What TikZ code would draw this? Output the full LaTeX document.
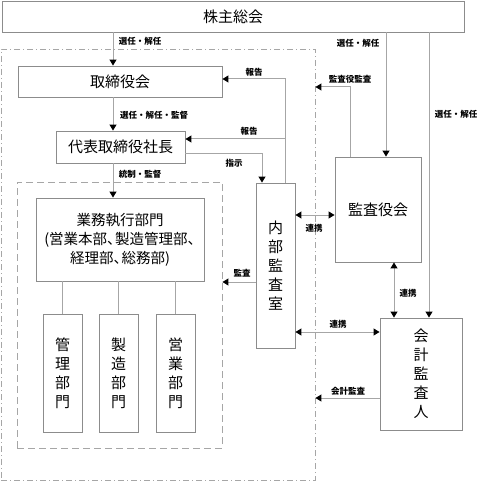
\documentclass[tikz,border=0pt]{standalone}
\usepackage{fontspec}
\setmainfont{Noto Sans CJK JP}
\usetikzlibrary{arrows.meta}
\definecolor{boxgray}{HTML}{8C8C8C}
\definecolor{linegray}{HTML}{A6A6A6}
\newcommand\halfcomma{\makebox[0.55em][l]{、}}
\begin{document}
\begin{tikzpicture}[x=1pt,y=-1pt,
  box/.style={draw=boxgray,line width=0.9pt,inner sep=0pt,font=\fontsize{15}{19}\selectfont,align=center},
  conn/.style={draw=linegray,line width=1pt},
  arr/.style={conn,-{Triangle[length=6pt,width=7pt,color=black]}},
  darr/.style={conn,{Triangle[length=6pt,width=7pt,color=black]}-{Triangle[length=6pt,width=7pt,color=black]}},
  lbl/.style={font=\fontsize{8.5}{10}\selectfont\bfseries,inner sep=0pt},
  frame/.style={draw=linegray,line width=0.9pt,inner sep=0pt}]
\useasboundingbox (0,0) rectangle (479,481);
% frames
\node[frame,dash pattern=on 6pt off 3pt on 1pt off 3pt,minimum width=314pt,minimum height=431pt] (of) at (158,264.5) {};
\node[frame,dash pattern=on 7pt off 4pt,minimum width=205pt,minimum height=266pt] (if) at (119.5,315) {};
% boxes
\node[box,minimum width=462pt,minimum height=31pt] (sh) at (233,16.5) {株主総会};
\node[box,minimum width=204pt,minimum height=31pt] (tb) at (120,81.5) {取締役会};
\node[box,minimum width=129pt,minimum height=32pt] (dp) at (120.5,147) {代表取締役社長};
\node[box,minimum width=168pt,minimum height=83pt,font=\fontsize{14.5}{19}\selectfont] (gy) at (120,239.5) {業務執行部門\\(営業本部\halfcomma 製造管理部\halfcomma\\経理部\halfcomma 総務部)};
\node[box,minimum width=39pt,minimum height=118pt] (k1) at (62.5,373) {管\\理\\部\\門};
\node[box,minimum width=39pt,minimum height=118pt] (k2) at (118.5,373) {製\\造\\部\\門};
\node[box,minimum width=39pt,minimum height=118pt] (k3) at (175.5,373) {営\\業\\部\\門};
\node[box,minimum width=39pt,minimum height=165pt] (nb) at (275.5,265.5) {内\\部\\監\\査\\室};
\node[box,minimum width=86pt,minimum height=105pt] (kk) at (378,209.5) {監査役会};
\node[box,minimum width=82pt,minimum height=112pt] (ka) at (421,374) {会\\計\\監\\査\\人};
% helper coordinates
\coordinate (xa) at (113,0);
\coordinate (r1) at (285,79);
\coordinate (r2) at (285,139);
\coordinate (s1) at (262,154);
\coordinate (m1) at (350,87);
\coordinate (xb) at (386,0);
\coordinate (xc) at (429,0);
\coordinate (xd) at (394,0);
\coordinate (y1) at (0,215);
\coordinate (y2) at (0,332);
\coordinate (y3) at (0,398);
\coordinate (y4) at (0,282);
% connectors
\draw[arr] (sh.south -| xa) -- (tb.north -| xa);
\draw[arr] (tb.south -| xa) -- (dp.north -| xa);
\draw[arr] (dp.south -| xa) -- (gy.north -| xa);
\draw[conn] (k1.north |- gy.south) -- (k1.north);
\draw[conn] (k2.north |- gy.south) -- (k2.north);
\draw[conn] (k3.north |- gy.south) -- (k3.north);
\draw[arr] (nb.north -| r1) -- (r1) -- (tb.east |- r1);
\draw[arr] (r2) -- (dp.east |- r2);
\draw[arr] (dp.east |- s1) -- (s1) -- (nb.north -| s1);
\draw[arr] (kk.north -| m1) -- (m1) -- (of.east |- m1);
\draw[arr] (sh.south -| xb) -- (kk.north -| xb);
\draw[arr] (sh.south -| xc) -- (ka.north -| xc);
\draw[darr] (kk.south -| xd) -- (ka.north -| xd);
\draw[darr] (nb.east |- y1) -- (kk.west |- y1);
\draw[darr] (nb.east |- y2) -- (ka.west |- y2);
\draw[arr] (ka.west |- y3) -- (of.east |- y3);
\draw[arr] (nb.west |- y4) -- (if.east |- y4);
% labels
\node[lbl] (l1) at (140,41) {選任・解任};
\node[lbl] (l2) at (154,115) {選任・解任・監督};
\node[lbl] (l3) at (140,174) {統制・監督};
\node[lbl] (l4) at (254,72) {報告};
\node[lbl] (l5) at (249,131) {報告};
\node[lbl] (l6) at (234,163) {指示};
\node[lbl] (l7) at (350,79) {監査役監査};
\node[lbl] (l8) at (358,43) {選任・解任};
\node[lbl] (l9) at (456,114) {選任・解任};
\node[lbl] (l10) at (314,228) {連携};
\node[lbl] (l11) at (408,293) {連携};
\node[lbl] (l12) at (338,324) {連携};
\node[lbl] (l13) at (348,391) {会計監査};
\node[lbl] (l14) at (242,273) {監査};
\end{tikzpicture}
\end{document}
